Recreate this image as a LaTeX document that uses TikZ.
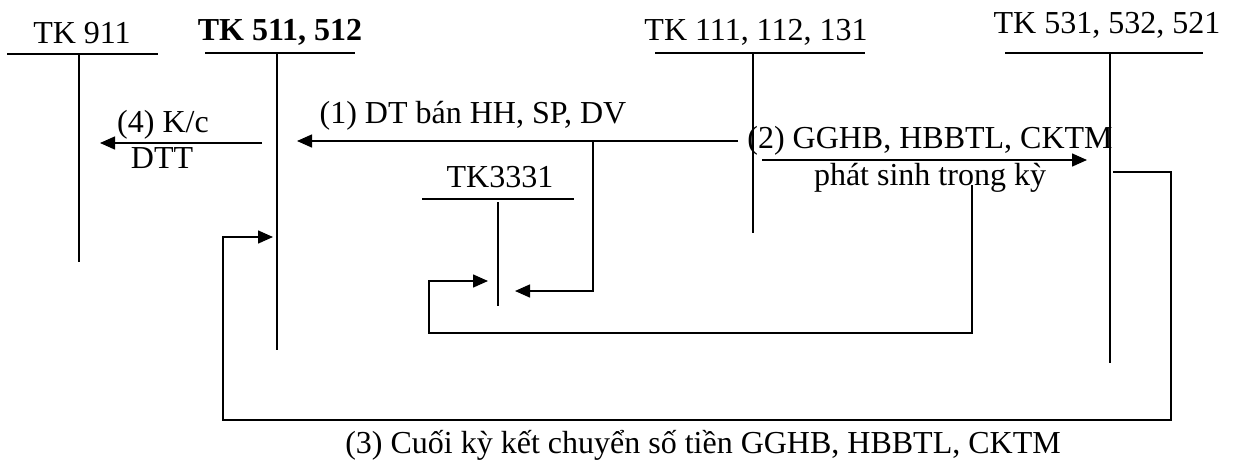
\documentclass[tikz,border=0pt]{standalone}
\usepackage{fontspec}
\setmainfont{Liberation Serif}
\usetikzlibrary{arrows.meta}
\begin{document}
\begin{tikzpicture}[x=1pt, y=-1pt, line width=1.5pt,
  lbl/.style={font=\fontsize{32}{36}\selectfont, inner sep=0pt, anchor=base},
  tip/.style={-{Triangle[length=15pt,width=13pt]}}]
\useasboundingbox (0,0) rectangle (1233,464);
\node[lbl] (tk911) at (82,43) {TK 911};
\node[lbl] (tk511) at (280,40) {\textbf{TK 511, 512}};
\node[lbl] (tk111) at (756,40) {TK 111, 112, 131};
\node[lbl] (tk531) at (1107,33) {TK 531, 532, 521};
\node[lbl] (tk3331) at (500,187) {TK3331};
\draw (7,54) -- (158,54);
\draw (79,54) -- (79,262);
\draw (205,53) -- (355,53);
\draw (277,53) -- (277,350);
\draw (655,53) -- (865,53);
\draw (753,53) -- (753,233);
\draw (1005,53) -- (1203,53);
\draw (1110,53) -- (1110,363);
\draw (422,199) -- (574,199);
\draw (498,202) -- (498,306);
\coordinate (k4a) at (262,143);
\coordinate (k4b) at (100,143);
\coordinate (dt1a) at (738,141);
\coordinate (dt1b) at (297,141);
\coordinate (vat1) at (593,141);
\coordinate (vat2) at (515,291);
\coordinate (gg2a) at (762,160);
\coordinate (gg2b) at (1087,160);
\coordinate (gg3a) at (972,185);
\coordinate (gg3b) at (488,281);
\coordinate (kc3a) at (1113,172);
\coordinate (kc3b) at (273,237);
\draw[tip] (k4a) -- (k4b);
\node[lbl] (k4t) at (163,132) {(4) K/c};
\node[lbl] (k4d) at (162,168) {DTT};
\draw[tip] (dt1a) -- (dt1b);
\node[lbl] (dt1t) at (473,123) {(1) DT bán HH, SP, DV};
\draw[tip] (vat1) |- (vat2);
\draw[tip] (gg2a) -- (gg2b);
\node[lbl] (gg2t) at (930,148) {(2) GGHB, HBBTL, CKTM};
\node[lbl] (gg2d) at (930,185) {phát sinh trong kỳ};
\draw[tip] (gg3a) -- (972,333) -- (429,333) |- (gg3b);
\draw[tip] (kc3a) -- (1171,172) -- (1171,420) -- (223,420) |- (kc3b);
\node[lbl] (kc3t) at (703,453) {(3) Cuối kỳ kết chuyển số tiền GGHB, HBBTL, CKTM};
\end{tikzpicture}
\end{document}
